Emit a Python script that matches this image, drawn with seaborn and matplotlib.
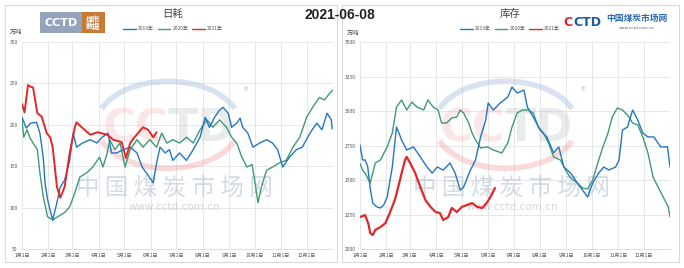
import matplotlib
matplotlib.use("Agg")
import matplotlib.pyplot as plt
import seaborn as sns
import pandas as pd
from matplotlib.patches import Rectangle, Arc
from matplotlib.lines import Line2D

# ---------------- data ----------------
# 日耗 (daily consumption, 万吨) : day-of-year, value
cons19_day = [0, 5, 10, 17, 21, 25, 27, 30, 33, 36, 41, 45, 50, 56, 60, 64, 71, 80, 88, 94, 101, 105, 111, 119, 127, 135, 141, 148, 154, 158, 162, 168, 173, 177, 185, 193, 201, 209, 215, 220, 226, 232, 236, 242, 246, 252, 256, 259, 265, 271, 279, 287, 294, 300, 306, 314, 322, 329, 338, 346, 352, 358, 363, 364]
cons19_val = [209, 196, 202, 203, 190, 160, 130, 110, 97, 85, 106, 125, 133, 157, 190, 173, 178, 182, 178, 185, 190, 166, 166, 170, 173, 166, 149, 139, 130, 154, 173, 166, 170, 157, 166, 157, 170, 185, 209, 197, 209, 218, 221, 214, 197, 202, 208, 197, 190, 173, 178, 182, 178, 170, 149, 161, 170, 173, 190, 202, 194, 214, 206, 195]
cons20_day = [0, 2, 6, 9, 13, 18, 21, 25, 30, 36, 42, 50, 56, 62, 68, 76, 83, 91, 95, 100, 103, 109, 115, 121, 127, 135, 142, 150, 158, 164, 170, 177, 185, 193, 201, 209, 217, 224, 232, 240, 246, 252, 258, 264, 270, 273, 277, 281, 287, 294, 302, 310, 318, 326, 334, 341, 349, 355, 361, 365]
cons20_val = [206, 185, 194, 185, 178, 170, 142, 113, 89, 85, 89, 94, 101, 118, 137, 142, 149, 161, 149, 166, 182, 170, 178, 149, 170, 182, 173, 182, 173, 190, 178, 182, 178, 185, 178, 194, 206, 197, 206, 197, 185, 178, 161, 149, 152, 133, 106, 125, 145, 149, 154, 157, 173, 185, 209, 221, 233, 230, 238, 242]
cons21_day = [0, 3, 7, 10, 13, 18, 23, 29, 33, 36, 41, 45, 50, 56, 62, 64, 70, 80, 89, 100, 107, 117, 122, 127, 132, 142, 148, 154, 158]
cons21_val = [225, 215, 248, 246, 245, 214, 210, 190, 185, 173, 125, 112, 125, 166, 197, 203, 197, 188, 191, 188, 182, 179, 160, 178, 185, 197, 194, 185, 191]

# 库存 (stock, 万吨)
stock19_day = [0, 3, 6, 9, 12, 15, 20, 24, 28, 32, 38, 43, 49, 55, 63, 71, 79, 85, 91, 98, 106, 112, 118, 122, 130, 136, 142, 148, 151, 157, 165, 174, 179, 185, 193, 197, 204, 212, 220, 228, 234, 240, 248, 256, 262, 268, 274, 281, 287, 293, 301, 305, 309, 315, 321, 327, 333, 339, 346, 354, 362, 365]
stock19_val = [2754, 2645, 2645, 2600, 2440, 2333, 2305, 2297, 2320, 2377, 2594, 2884, 2790, 2717, 2740, 2667, 2594, 2550, 2594, 2572, 2623, 2550, 2427, 2449, 2572, 2645, 2812, 2935, 3058, 3007, 3058, 3101, 3174, 3130, 3152, 3029, 2957, 2862, 2812, 2696, 2740, 2594, 2550, 2478, 2427, 2377, 2478, 2550, 2594, 2572, 2594, 2645, 2862, 2884, 3007, 2935, 2840, 2812, 2812, 2740, 2740, 2594]
stock20_day = [0, 3, 6, 12, 18, 24, 32, 38, 43, 49, 55, 61, 67, 75, 80, 86, 92, 96, 102, 108, 114, 118, 122, 128, 132, 136, 142, 150, 157, 167, 174, 179, 185, 191, 198, 204, 210, 216, 222, 228, 236, 242, 248, 256, 262, 268, 274, 280, 286, 292, 297, 303, 309, 315, 321, 327, 333, 339, 345, 351, 357, 363, 365]
stock20_val = [2620, 2572, 2550, 2478, 2623, 2645, 2740, 2840, 3029, 3080, 3007, 3065, 3029, 3007, 3080, 3029, 3007, 2913, 2913, 2949, 2957, 3007, 2985, 2913, 2840, 2790, 2732, 2740, 2717, 2696, 2768, 2884, 2985, 3007, 3007, 2985, 2884, 2840, 2768, 2667, 2645, 2572, 2514, 2478, 2442, 2435, 2500, 2623, 2740, 2840, 2957, 3022, 3007, 2971, 2913, 2900, 2812, 2696, 2522, 2449, 2377, 2305, 2232]
stock21_day = [0, 6, 10, 12, 15, 18, 24, 30, 35, 41, 45, 49, 53, 55, 59, 65, 71, 77, 83, 89, 94, 98, 104, 108, 114, 120, 126, 132, 138, 144, 150, 156, 159]
stock21_val = [2232, 2246, 2180, 2116, 2101, 2138, 2159, 2188, 2261, 2355, 2449, 2550, 2645, 2667, 2623, 2550, 2449, 2355, 2305, 2268, 2261, 2210, 2232, 2297, 2268, 2305, 2319, 2333, 2305, 2297, 2340, 2405, 2442]

years = ["2019年", "2020年", "2021年"]
colors = {"2019年": "#2476c3", "2020年": "#3f9a78", "2021年": "#e3262a"}
month_days = [0, 31, 59, 90, 120, 151, 181, 212, 243, 273, 304, 334]
month_labels = ["1月1日", "2月1日", "3月1日", "4月1日", "5月1日", "6月1日",
                "7月1日", "8月1日", "9月1日", "10月1日", "11月1日", "12月1日"]
cons_ticks = [50, 100, 150, 200, 250, 300]
stock_ticks = [2000, 2250, 2500, 2750, 3000, 3250, 3500]

# ---------------- figure ----------------
sns.set_theme(style="white")
plt.rcParams['font.family'] = ['Noto Sans CJK SC', 'DejaVu Sans']

W, H = 684, 268
fig = plt.figure(figsize=(W / 100, H / 100), dpi=100)


def fx(px):
    return px / W


def fy(py):
    return 1 - py / H


# panel frames
for x0, x1 in [(5, 337), (342, 679)]:
    fig.patches.append(Rectangle((fx(x0), fy(262)), fx(x1 - x0), (262 - 5) / H,
                                 transform=fig.transFigure, fill=False,
                                 edgecolor="#d9d9d9", linewidth=0.8))

ax1 = fig.add_axes([fx(22), fy(249), fx(333 - 22), (249 - 42) / H])
ax2 = fig.add_axes([fx(360), fy(249), fx(670 - 360), (249 - 42) / H])


def draw_watermark(ax):
    ax.text(0.47, 0.58, "CC", transform=ax.transAxes, ha="right", va="center",
            fontsize=32, fontweight="bold", color="#f2b0b0", alpha=0.3,
            family="DejaVu Sans", zorder=0.6)
    ax.text(0.47, 0.58, "TD", transform=ax.transAxes, ha="left", va="center",
            fontsize=32, fontweight="bold", color="#c4c7cd", alpha=0.35,
            family="DejaVu Sans", zorder=0.6)
    ax.add_patch(Arc((0.47, 0.60), 0.46, 0.42, theta1=20, theta2=160,
                     transform=ax.transAxes, color="#9fb8dc", lw=4, alpha=0.4, zorder=0.6))
    ax.add_patch(Arc((0.47, 0.60), 0.46, 0.42, theta1=200, theta2=340,
                     transform=ax.transAxes, color="#f0a0a0", lw=4, alpha=0.4, zorder=0.6))
    ax.text(0.72, 0.76, "®", transform=ax.transAxes, ha="center", va="center",
            fontsize=7, color="#c0c0c0", alpha=0.7, zorder=0.6)
    ax.text(0.49, 0.295, "中 国 煤 炭 市 场 网", transform=ax.transAxes, ha="center",
            va="center", fontsize=17, color="#a9b8cc", alpha=0.5, zorder=0.6)
    ax.text(0.49, 0.205, "www.cctd.com.cn", transform=ax.transAxes, ha="center",
            va="center", fontsize=7.5, color="#b9bdc4", alpha=0.6, zorder=0.6,
            family="DejaVu Sans")


def style_axis(ax, ticks, ylim, fmt):
    ax.set_xlim(0, 365)
    ax.set_ylim(*ylim)
    ax.set_xticks(month_days + [365])
    ax.set_xticklabels(month_labels + [""])
    ax.set_yticks(ticks)
    ax.set_yticklabels([fmt(t) for t in ticks])
    ax.grid(True, color="#e3e3e3", linewidth=0.6)
    ax.set_axisbelow(True)
    for s in ax.spines.values():
        s.set_visible(False)
    ax.spines["bottom"].set_visible(True)
    ax.spines["bottom"].set_color("#d9d9d9")
    ax.spines["bottom"].set_linewidth(0.6)
    ax.tick_params(axis="both", length=0, labelsize=3.6, colors="#555555", pad=3)
    ax.set_xlabel("")
    ax.set_ylabel("")


def plot_series(ax, day, val, year, lw):
    df = pd.DataFrame({"day": day, "value": val})
    sns.lineplot(data=df, x="day", y="value", ax=ax, color=colors[year],
                 linewidth=lw, legend=False, zorder=3 if year == "2021年" else 2.5)


draw_watermark(ax1)
draw_watermark(ax2)

plot_series(ax1, cons20_day, cons20_val, "2020年", 1.0)
plot_series(ax1, cons19_day, cons19_val, "2019年", 1.0)
plot_series(ax1, cons21_day, cons21_val, "2021年", 1.4)

plot_series(ax2, stock20_day, stock20_val, "2020年", 1.0)
plot_series(ax2, stock19_day, stock19_val, "2019年", 1.0)
plot_series(ax2, stock21_day, stock21_val, "2021年", 1.6)

style_axis(ax1, cons_ticks, (50, 300), lambda t: f"{t}")
style_axis(ax2, stock_ticks, (2000, 3500), lambda t: f"{t}")

# units
fig.text(fx(16), fy(32), "万吨", fontsize=4.5, color="#444444", ha="center", va="center")
fig.text(fx(353), fy(33), "万吨", fontsize=4.5, color="#444444", ha="center", va="center")

# titles
fig.text(fx(173), fy(14), "日耗", fontsize=7.5, color="#444444", ha="center", va="center")
fig.text(fx(510), fy(14), "库存", fontsize=7.5, color="#444444", ha="center", va="center")
fig.text(fx(340), fy(15), "2021-06-08", fontsize=10, fontweight="bold", color="#222222",
         ha="center", va="center", family="Liberation Sans")

# legends
handles = [Line2D([], [], color=colors[y], lw=1.0) for y in years]
for cx in (173, 510):
    fig.legend(handles, years, loc="center", bbox_to_anchor=(fx(cx), fy(29)),
               ncol=3, frameon=False, fontsize=3.5, handlelength=2.6,
               handletextpad=0.4, columnspacing=0.8, labelcolor="#555555")

# left logo
fig.patches.append(Rectangle((fx(40), fy(33)), fx(42), 21 / H, transform=fig.transFigure,
                             facecolor="#95a3bd", edgecolor="none"))
fig.patches.append(Rectangle((fx(82), fy(33)), fx(23), 21 / H, transform=fig.transFigure,
                             facecolor="#c67a35", edgecolor="none"))
fig.text(fx(61), fy(22.5), "CCTD", fontsize=8, color="white", ha="center", va="center",
         family="DejaVu Sans", fontweight="bold")
fig.text(fx(93.5), fy(22.5), "煤市\n数据", fontsize=5.2, color="white", ha="center",
         va="center", fontweight="bold", linespacing=1.0)

# right logo
fig.text(fx(573), fy(22), "C", fontsize=9, color="#d8262a", ha="right", va="center",
         family="DejaVu Sans", fontweight="bold")
fig.text(fx(573.5), fy(22), "CTD", fontsize=9, color="#1f5aa6", ha="left", va="center",
         family="DejaVu Sans", fontweight="bold")
fig.text(fx(637), fy(19), "中国煤炭市场网", fontsize=6.3, color="#2d6bb5",
         ha="center", va="center", fontweight="bold")
fig.text(fx(637), fy(28), "www.cctd.com.cn", fontsize=3, color="#666666",
         ha="center", va="center", family="DejaVu Sans")

fig.savefig("out.png", dpi=100, facecolor="white")
